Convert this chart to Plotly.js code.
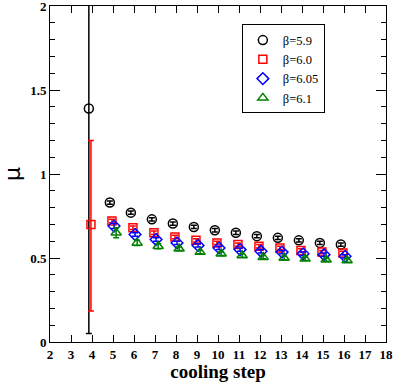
<!DOCTYPE html>
<html>
<head>
<meta charset="utf-8">
<script src="https://cdn.plot.ly/plotly-3.0.1.min.js"></script>
<style>
  body { margin: 0; background: #fff; }
  #chart { width: 395px; height: 382px; }
</style>
</head>
<body>
<div id="chart"></div>
<script>
// cooling steps, each beta series drawn slightly shifted so the points don't overlap
const steps = [4, 5, 6, 7, 8, 9, 10, 11, 12, 13, 14, 15, 16];

const mu59 = [1.39, 0.83, 0.77, 0.73, 0.705, 0.685, 0.665, 0.65, 0.63, 0.62, 0.605, 0.59, 0.58];
const err59Up = [1.40, 0.01, 0.01, 0.01, 0.01, 0.01, 0.01, 0.01, 0.01, 0.01, 0.01, 0.01, 0.01];
const err59Dn = [1.34, 0.01, 0.01, 0.01, 0.01, 0.01, 0.01, 0.01, 0.01, 0.01, 0.01, 0.01, 0.01];

const mu60 = [0.70, 0.72, 0.68, 0.65, 0.625, 0.605, 0.59, 0.58, 0.57, 0.56, 0.545, 0.535, 0.53];
const err60Up = [0.50, 0.01, 0.01, 0.01, 0.01, 0.01, 0.01, 0.01, 0.01, 0.01, 0.01, 0.01, 0.01];
const err60Dn = [0.515, 0.01, 0.01, 0.01, 0.01, 0.01, 0.01, 0.01, 0.01, 0.01, 0.01, 0.01, 0.01];

const steps605 = [5, 6, 7, 8, 9, 10, 11, 12, 13, 14, 15, 16];
const mu605 = [0.69, 0.64, 0.61, 0.59, 0.575, 0.56, 0.55, 0.54, 0.535, 0.525, 0.52, 0.51];
const err605 = [0.015, 0.01, 0.01, 0.01, 0.01, 0.01, 0.01, 0.01, 0.01, 0.01, 0.01, 0.01];

const steps61 = [5, 6, 7, 8, 9, 10, 11, 12, 13, 14, 15, 16];
const mu61 = [0.65, 0.59, 0.57, 0.555, 0.535, 0.525, 0.515, 0.505, 0.50, 0.495, 0.49, 0.485];
const err61 = [0.03, 0.015, 0.015, 0.01, 0.01, 0.01, 0.01, 0.01, 0.01, 0.01, 0.01, 0.01];

const names = ['β=5.9', 'β=6.0', 'β=6.05', 'β=6.1'];

const xTicks = [2, 3, 4, 5, 6, 7, 8, 9, 10, 11, 12, 13, 14, 15, 16, 17, 18];
const yTicks = [0, 0.5, 1, 1.5, 2];
const yTickLabels = ['0', '0.5', '1', '1.5', '2'];

function shift(xs, dx) {
    return xs.map(v => v + dx);
}

const trace59 = {
    x: shift(steps, -0.15),
    y: mu59,
    error_y: { type: 'data', symmetric: false, array: err59Up, arrayminus: err59Dn, color: 'black', thickness: 1.5, width: 3 },
    mode: 'markers',
    type: 'scatter',
    marker: { symbol: 'circle-open', color: 'black', size: 9, line: { width: 1.5 } },
    name: names[0]
};

const trace60 = {
    x: shift(steps, -0.05),
    y: mu60,
    error_y: { type: 'data', symmetric: false, array: err60Up, arrayminus: err60Dn, color: 'red', thickness: 1.5, width: 3 },
    mode: 'markers',
    type: 'scatter',
    marker: { symbol: 'square-open', color: 'red', size: 8, line: { width: 1.5 } },
    name: names[1]
};

const trace605 = {
    x: shift(steps605, 0.05),
    y: mu605,
    error_y: { type: 'data', array: err605, color: 'blue', thickness: 1.5, width: 3 },
    mode: 'markers',
    type: 'scatter',
    marker: { symbol: 'diamond-open', color: 'blue', size: 9, line: { width: 1.5 } },
    name: names[2]
};

const trace61 = {
    x: shift(steps61, 0.15),
    y: mu61,
    error_y: { type: 'data', array: err61, color: 'green', thickness: 1.5, width: 3 },
    mode: 'markers',
    type: 'scatter',
    marker: { symbol: 'triangle-up-open', color: 'green', size: 9, line: { width: 1.5 } },
    name: names[3]
};

const serif = 'Liberation Serif, Times New Roman, serif';
const tickFont = { family: serif, size: 13, color: 'black' };

const layout = {
    width: 395,
    height: 382,
    margin: { l: 50, r: 9, t: 6, b: 40 },
    paper_bgcolor: 'white',
    plot_bgcolor: 'white',
    showlegend: true,
    legend: {
        x: 0.571, y: 0.945, xanchor: 'left', yanchor: 'top',
        bordercolor: 'black', borderwidth: 1,
        font: { family: serif, size: 12.5, color: 'black' },
        tracegroupgap: 0,
        itemwidth: 30
    },
    xaxis: {
        range: [2, 18],
        tickvals: xTicks,
        ticktext: xTicks.map(t => '<b>' + t + '</b>'),
        ticks: 'inside',
        ticklen: 7,
        tickwidth: 1,
        tickcolor: 'black',
        showline: true,
        linecolor: 'black',
        linewidth: 1,
        mirror: 'ticks',
        showgrid: false,
        zeroline: false,
        tickfont: tickFont,
        ticklabeloverflow: 'allow',
        title: { text: '<b>cooling step</b>', font: { family: serif, size: 19, color: 'black' }, standoff: 2 }
    },
    yaxis: {
        range: [0, 2],
        tickvals: yTicks,
        ticktext: yTickLabels.map(t => '<b>' + t + '</b>'),
        ticks: 'inside',
        ticklen: 10,
        tickwidth: 1,
        tickcolor: 'black',
        minor: { dtick: 0.1, tick0: 0, ticks: 'inside', ticklen: 5, tickcolor: 'black', tickwidth: 1 },
        showline: true,
        linecolor: 'black',
        linewidth: 1,
        mirror: 'ticks',
        showgrid: false,
        zeroline: false,
        tickfont: tickFont,
        ticklabeloverflow: 'allow',
        title: { text: 'μ', font: { family: 'DejaVu Sans, sans-serif', size: 22, color: 'black' }, standoff: 14 }
    }
};

Plotly.newPlot('chart', [trace59, trace60, trace605, trace61], layout, { displayModeBar: false, staticPlot: true });
</script>
</body>
</html>
